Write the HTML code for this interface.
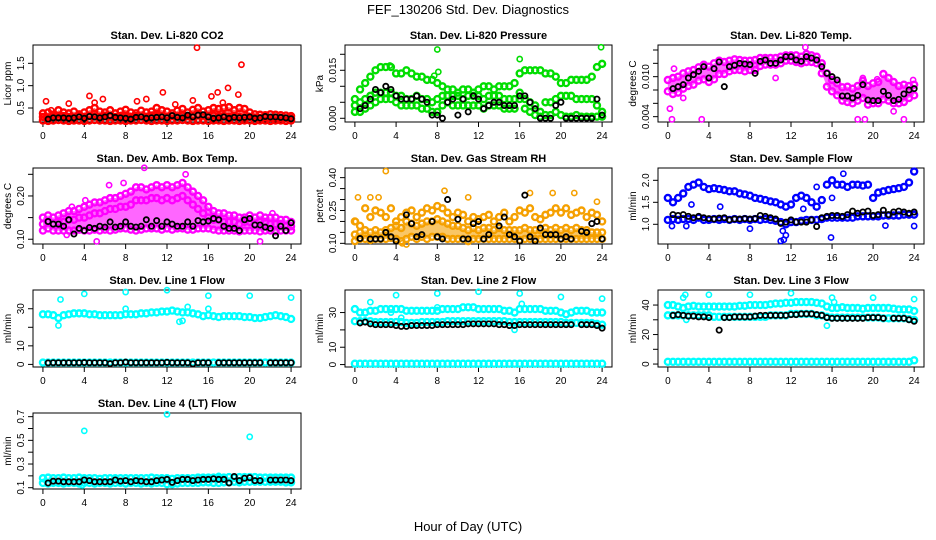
<!DOCTYPE html>
<html><head><meta charset="utf-8">
<style>
html,body{margin:0;padding:0;background:#fff;}
svg{display:block;font-family:"Liberation Sans",Arial,sans-serif;}
</style></head>
<body>
<svg id="chart" width="936" height="540" viewBox="0 0 936 540">
<text x="468" y="14" text-anchor="middle" font-size="13">FEF_130206  Std. Dev. Diagnostics</text>
<text x="468" y="531" text-anchor="middle" font-size="13">Hour of Day (UTC)</text>
</svg>
<script>
const hours=[0,0.5,1,1.5,2,2.5,3,3.5,4,4.5,5,5.5,6,6.5,7,7.5,8,8.5,9,9.5,10,10.5,11,11.5,12,12.5,13,13.5,14,14.5,15,15.5,16,16.5,17,17.5,18,18.5,19,19.5,20,20.5,21,21.5,22,22.5,23,23.5,24];
const xTicks=[0,4,8,12,16,20,24];

// CO2
const co2Lo=[0.22,0.21,0.22,0.23,0.22,0.21,0.22,0.22,0.21,0.22,0.23,0.22,0.22,0.21,0.22,0.22,0.21,0.22,0.22,0.23,0.22,0.21,0.22,0.22,0.21,0.22,0.22,0.23,0.22,0.21,0.22,0.22,0.21,0.22,0.22,0.21,0.22,0.22,0.21,0.22,0.22,0.21,0.22,0.22,0.21,0.22,0.22,0.21,0.22];
const co2Mid=[0.3,0.29,0.31,0.3,0.32,0.3,0.29,0.31,0.3,0.32,0.31,0.3,0.33,0.31,0.3,0.32,0.31,0.3,0.32,0.31,0.3,0.33,0.32,0.31,0.3,0.32,0.31,0.33,0.32,0.31,0.34,0.33,0.32,0.33,0.31,0.32,0.3,0.31,0.3,0.29,0.3,0.29,0.28,0.29,0.28,0.29,0.28,0.27,0.27];
const co2Hi=[0.38,0.4,0.35,0.45,0.4,0.38,0.42,0.36,0.4,0.45,0.5,0.42,0.4,0.45,0.38,0.42,0.46,0.4,0.38,0.44,0.4,0.42,0.5,0.45,0.42,0.38,0.44,0.48,0.4,0.46,0.5,0.42,0.45,0.5,0.48,0.5,0.52,0.45,0.5,0.48,0.4,0.36,0.35,0.34,0.36,0.35,0.34,0.33,0.32];
const co2Out=[[0.3,0.65],[2.5,0.6],[4.5,0.77],[5,0.62],[5.8,0.7],[9.1,0.65],[10,0.7],[11.6,0.85],[14.5,0.67],[14.9,1.85],[16.3,0.76],[16.9,0.85],[17.4,0.62],[17.9,0.95],[18.9,0.8],[19.2,1.47],[0.8,0.45],[12.8,0.58]];
const co2Blk=[null,0.25,0.28,0.28,0.28,0.27,0.28,0.3,0.27,0.31,0.3,0.28,0.3,0.33,0.29,0.28,0.27,0.25,0.29,0.3,0.27,0.28,0.29,0.3,0.28,0.33,0.29,0.28,0.34,0.3,0.34,0.35,0.3,0.27,0.28,0.3,0.27,0.29,0.28,0.29,0.3,0.27,0.28,0.31,0.3,0.3,0.29,0.28,0.26];

// Pressure
const prHi=[0.006,0.009,0.011,0.013,0.015,0.016,0.016,0.016,0.014,0.014,0.015,0.014,0.013,0.013,0.012,0.012,0.011,0.01,0.009,0.009,0.008,0.009,0.009,0.008,0.009,0.01,0.01,0.009,0.01,0.01,0.01,0.011,0.014,0.015,0.015,0.015,0.015,0.014,0.014,0.013,0.011,0.011,0.012,0.012,0.012,0.012,0.013,0.016,0.017];
const prMid=[0.004,0.005,0.006,0.007,0.008,0.008,0.008,0.008,0.007,0.007,0.006,0.006,0.007,0.006,0.006,0.005,0.006,0.007,0.007,0.007,0.007,0.006,0.007,0.007,0.007,0.006,0.007,0.007,0.007,0.006,0.006,0.006,0.008,0.006,0.005,0.004,0.002,0.005,0.005,0.006,0.007,0.007,0.007,0.006,0.006,0.006,0.006,0.004,0.002];
const prLo=[0.002,0.002,0.003,0.004,0.005,0.006,0.006,0.006,0.005,0.004,0.004,0.004,0.004,0.003,0.003,0.002,0.002,0.004,0.005,0.004,0.004,0.004,0.004,0.004,0.004,0.003,0.004,0.004,0.004,0.003,0.003,0.003,0.006,0.003,0.002,0.001,0.0005,0.001,0.001,0.002,0.001,0.0005,0.0005,0.001,0.0005,0.0005,0.0005,0.0005,0.0005];
const prOut=[[8,0.0215],[16,0.0185],[23.9,0.0222],[3.4,0.0165],[8.1,0.0145],[7.7,0.0133]];
const prBlk=[null,0.003,0.004,0.006,0.009,0.008,0.01,0.009,0.007,0.006,0.006,0.006,0.007,0.006,0.005,0.001,0.001,0.0,0.005,0.006,0.001,0.006,0.002,0.007,0.006,0.003,0.004,0.005,0.005,0.004,0.004,0.004,0.007,0.007,0.005,0.003,0.0,0.0,0.0,0.004,0.005,0.0,0.0,0.0,0.0,0.0,0.0,0.006,0.001];

// Li-820 temp
const tpBlk=[null,0.0082,0.0085,0.0088,0.0098,0.0103,0.0108,0.0115,0.0098,0.0112,0.0122,0.0085,0.0115,0.0117,0.012,0.0119,0.0118,0.0105,0.0123,0.0125,0.012,0.012,0.0125,0.013,0.013,0.0125,0.0123,0.013,0.0128,0.0125,0.0115,0.0105,0.0100,0.0095,0.0071,0.0071,0.0068,0.0072,0.0088,0.0065,0.0064,0.0064,0.0078,0.0072,0.0064,0.0066,0.0074,0.0080,0.0082];
const tpHi=[0.0095,0.0098,0.01,0.0105,0.0108,0.011,0.0114,0.0118,0.0115,0.012,0.0124,0.0122,0.0124,0.0126,0.0125,0.0124,0.0124,0.0125,0.0128,0.0128,0.0128,0.0128,0.013,0.0132,0.0132,0.0132,0.013,0.0134,0.0132,0.013,0.012,0.0105,0.0095,0.009,0.0084,0.0085,0.0082,0.0086,0.0094,0.0086,0.009,0.0092,0.0104,0.0098,0.0092,0.0086,0.0088,0.0086,0.0088];
const tpLo=[0.0078,0.0074,0.0076,0.0082,0.0086,0.0088,0.0094,0.0096,0.0092,0.0096,0.0104,0.0104,0.0108,0.011,0.011,0.0108,0.011,0.011,0.0116,0.0118,0.0118,0.0118,0.012,0.0124,0.0124,0.0122,0.012,0.0122,0.0122,0.012,0.0105,0.0085,0.0078,0.0072,0.0064,0.0062,0.006,0.0064,0.0068,0.0058,0.006,0.006,0.0066,0.0064,0.006,0.006,0.0062,0.0068,0.0072];
const tpOut=[[0.2,0.0052],[0.4,0.0036],[3.3,0.0036],[0.6,0.0112],[13.4,0.0144],[19,0.0098],[20.4,0.0096],[23.9,0.0095],[18.5,0.0036],[19.2,0.0036],[23,0.0036],[22,0.0048],[1.5,0.0068],[10.5,0.0098]];

// Amb box temp
const abBlk=[null,0.141,0.135,0.135,0.13,0.145,0.112,0.125,0.12,0.127,0.125,0.13,0.128,0.14,0.128,0.13,0.14,0.13,0.128,0.13,0.145,0.13,0.143,0.13,0.14,0.135,0.13,0.13,0.14,0.13,0.143,0.14,0.142,0.148,0.145,0.13,0.125,0.125,0.12,0.145,0.148,0.133,0.133,0.128,0.125,0.108,0.13,0.12,0.138];
const abHi=[0.15,0.155,0.15,0.155,0.16,0.165,0.165,0.17,0.175,0.18,0.185,0.185,0.19,0.195,0.195,0.2,0.205,0.21,0.22,0.22,0.215,0.22,0.225,0.22,0.225,0.22,0.225,0.23,0.22,0.21,0.2,0.19,0.175,0.165,0.16,0.16,0.155,0.155,0.15,0.15,0.155,0.15,0.155,0.15,0.15,0.15,0.145,0.145,0.14];
const abMid=[0.135,0.14,0.135,0.14,0.14,0.145,0.145,0.15,0.15,0.155,0.16,0.16,0.165,0.17,0.17,0.175,0.175,0.18,0.19,0.19,0.19,0.195,0.195,0.19,0.195,0.19,0.195,0.2,0.19,0.18,0.17,0.16,0.15,0.145,0.145,0.14,0.14,0.14,0.135,0.14,0.14,0.135,0.14,0.14,0.135,0.135,0.135,0.13,0.13];
const abLo=[0.12,0.125,0.12,0.12,0.12,0.12,0.12,0.122,0.12,0.12,0.122,0.12,0.122,0.12,0.122,0.125,0.125,0.122,0.12,0.122,0.125,0.125,0.125,0.122,0.125,0.122,0.125,0.125,0.122,0.122,0.125,0.125,0.125,0.122,0.12,0.12,0.12,0.12,0.118,0.12,0.12,0.12,0.118,0.12,0.12,0.118,0.12,0.12,0.12];
const abOut=[[9.8,0.265],[13.8,0.25],[5.2,0.095],[21,0.095],[6.4,0.225],[7.8,0.23],[2.8,0.175],[4.1,0.19],[22.2,0.16],[2.3,0.11]];

// Gas stream RH
const rhBlk=[null,0.122,null,0.12,0.12,0.12,0.15,0.13,0.11,null,0.23,0.19,0.13,0.14,null,0.2,0.13,0.12,0.3,null,0.21,0.12,0.12,0.19,0.2,0.12,0.14,null,0.18,0.22,0.14,0.13,0.11,0.32,0.13,0.11,0.17,0.14,0.14,0.14,0.12,0.13,0.12,null,0.155,0.15,0.19,0.2,0.12];
const rhHi=[0.2,0.18,0.26,0.22,0.25,0.24,0.22,0.26,0.2,0.22,0.24,0.25,0.22,0.24,0.26,0.25,0.27,0.26,0.24,0.22,0.24,0.23,0.2,0.22,0.21,0.22,0.23,0.2,0.22,0.24,0.2,0.22,0.25,0.24,0.26,0.22,0.21,0.23,0.24,0.26,0.24,0.26,0.23,0.24,0.25,0.22,0.24,0.23,0.2];
const rhMid=[0.14,0.15,0.16,0.15,0.16,0.15,0.16,0.17,0.18,0.17,0.2,0.19,0.18,0.19,0.2,0.2,0.21,0.2,0.19,0.18,0.18,0.17,0.16,0.17,0.16,0.17,0.17,0.16,0.17,0.16,0.16,0.16,0.16,0.17,0.16,0.16,0.16,0.17,0.16,0.17,0.16,0.17,0.16,0.17,0.16,0.16,0.15,0.15,0.15];
const rhLo=[0.11,0.12,0.12,0.115,0.12,0.12,0.12,0.125,0.12,0.11,0.12,0.13,0.12,0.13,0.12,0.13,0.13,0.13,0.12,0.12,0.12,0.12,0.11,0.12,0.12,0.12,0.12,0.12,0.12,0.12,0.12,0.12,0.115,0.12,0.12,0.12,0.12,0.12,0.12,0.12,0.12,0.12,0.12,0.12,0.12,0.12,0.12,0.12,0.12];
const rhOut=[[3,0.43],[0.3,0.31],[1.5,0.31],[2.3,0.31],[8.7,0.34],[11,0.31],[17,0.33],[19.2,0.33],[21.3,0.33],[23.5,0.29],[0.1,0.2],[13,0.12],[4.6,0.1],[5,0.095]];

// Sample flow
const sfBlk=[null,1.22,1.2,1.22,1.18,1.15,1.18,1.15,1.13,1.12,1.14,1.15,1.1,1.12,1.12,1.13,1.12,1.13,1.2,1.18,1.15,1.12,1.02,1.05,1.1,1.05,1.05,1.05,1.1,0.95,1.15,1.18,1.2,1.2,1.18,1.22,1.3,1.25,1.28,1.3,1.2,1.22,1.32,1.22,1.28,1.3,1.28,1.25,1.28];
const sfHi=[1.6,1.5,1.6,1.7,1.85,1.9,1.95,1.85,1.8,1.82,1.8,1.78,1.75,1.75,1.7,1.68,1.65,1.6,1.58,1.55,1.52,1.5,1.45,1.4,1.45,1.6,1.65,1.6,1.5,1.4,1.55,1.9,2.0,1.9,1.9,1.85,1.9,1.9,1.88,1.9,1.6,1.72,1.75,1.78,1.8,1.82,1.85,1.95,2.2];
const sfLo=[1.1,1.12,1.1,1.12,1.12,1.1,1.15,1.1,1.1,1.12,1.1,1.12,1.1,1.12,1.1,1.12,1.1,1.12,1.1,1.12,1.1,1.08,1.05,1.0,1.05,1.05,1.08,1.1,1.1,1.1,1.12,1.15,1.15,1.15,1.15,1.15,1.15,1.18,1.18,1.18,1.18,1.18,1.2,1.2,1.2,1.2,1.22,1.22,1.22];
const sfOut=[[0.4,0.96],[1.8,0.96],[2.3,1.45],[5.1,1.4],[8,0.9],[11,0.62],[11.3,0.65],[11.5,0.75],[11.2,0.85],[13.2,1.35],[15.9,0.7],[16,1.6],[17.1,2.15],[21.2,0.97],[24,0.96],[14.5,1.85]];

// Line 1
const l1Hi=[27,27,26.5,25,26.5,27,27.5,27.5,27.5,27,27,26.5,26.5,26.5,26.5,26.5,27,27,27,27.5,27.5,28,28,28.5,28.5,29,28.5,28,28,27.5,27,26,26.5,26,25.5,26,26,26,26,25.5,25.5,25,25,25.5,26,26.5,26,25.5,24.5];
const l1Lo=[1,1,1,1,1,1,1,1,1,1,1,1,1,1,1,1,1,1,1,1,1,1,1,1,1,1,1,1,1,1,1,1,1,1,1,1,1,1,1,1,1,1,1,1,1,1,1,1,1];
const l1Out=[[1.5,21],[1.7,35],[4,38],[8,39],[12,40],[16,37],[20,37],[24,36],[13.2,23],[13.5,23.5],[16,30],[14,31],[8,30]];
const l1Blk=[null,0.8,0.9,0.9,0.9,0.9,0.9,0.9,1.0,0.9,0.9,0.9,0.9,0.4,0.9,0.9,1.2,0.9,0.9,0.9,0.9,0.9,0.9,0.9,1.1,0.9,0.9,0.9,0.9,0.3,0.9,0.9,0.9,null,0.9,0.9,0.9,0.9,0.9,0.9,0.9,0.9,0.9,null,0.9,0.9,0.9,0.9,0.9];

// Line 2
const l2Hi=[32,30,30,31,31,32,32,32,32,32,31,31,31,31,31,31,31,32,32,32,32,33,33,33,32,32,32,32,32,31,31,30,32,32,32,32,32,31,31,31,30,29,30,31,31,31,30,30,30];
const l2Mid=[25,25,25,25,24.5,24.5,24.5,24.5,24.5,24.5,24,24,24,24.5,24.5,24.5,24.5,24.5,25,25,25,25,25,25,25,25,25,25,25,25,24.5,24.5,24.5,24.5,24.5,24.5,24.5,24.5,24.5,24.5,24.5,24,24,24,24,24,24,23.5,23];
const l2Lo=[0.5,0.5,0.5,0.5,0.5,0.5,0.5,0.5,0.5,0.5,0.5,0.5,0.5,0.5,0.5,0.5,0.5,0.5,0.5,0.5,0.5,0.5,0.5,0.5,0.5,0.5,0.5,0.5,0.5,0.5,0.5,0.5,0.5,0.5,0.5,0.5,0.5,0.5,0.5,0.5,0.5,0.5,0.5,0.5,0.5,0.5,0.5,0.5,0.5];
const l2Out=[[1.5,36],[4,40],[8,41],[12,42],[16,41],[20,39],[24,38],[15.5,20],[4.5,27],[16.2,35],[8,33],[3.5,30]];
const l2Blk=[null,24,24.5,23.5,23,23,23,23,22.5,22,22,22.5,22.5,22.5,22.5,22.5,23,23,23,23,23,23,23.5,23.5,23.5,23.5,23.5,23.5,23,23,22.5,22.5,23,23,23,23,23,23,23,23,23,23,23,null,23,23,23,22.5,21];

// Line 3
const l3Hi=[40,40,39,38,39,39.5,39,39,39,39,39,39,39,39,39.5,39.5,40,40,40,40,40.5,41,41,41.5,41.5,42,42,42,42,41.5,41,39,38,38,38.5,38,38,38,37.5,38,38,38,38,38,37.5,37,37,37,36];
const l3Mid=[33,33,33,33,33,33,33,33,33,32,32,32,32,32,32,32,32,32,32,32,33,33,33,33,34,34,34,34,34,33,33,32,31.5,31.5,31.5,31.5,31.5,31.5,31.5,31.5,31.5,31.5,31,31,31,31,31,30.5,30];
const l3Lo=[1.5,1.5,1.5,1.5,1.5,1.5,1.5,1.5,1.5,1.5,1.5,1.5,1.5,1.5,1.5,1.5,1.5,1.5,1.5,1.5,1.5,1.5,1.5,1.5,1.5,1.5,1.5,1.5,1.5,1.5,1.5,1.5,1.5,1.5,1.5,1.5,1.5,1.5,1.5,1.5,1.5,1.5,1.5,1.5,1.5,1.5,1.5,1.5,2.5];
const l3Out=[[1.5,45],[1.7,47],[4,47],[8,47],[12,48],[16,45],[20,45],[24,44],[15.5,26],[1.8,30],[16.2,42]];
const l3Blk=[null,33,33.5,33,32.5,32.5,32,32,31.5,null,23,31.5,31.5,32,32,32,32,32.5,33,33,33,33,33,33,33.5,33.5,34,34,34,33.5,33,31.5,31,31,31,31,31,31,31,31.5,31.5,31.5,31,null,31,31,31,30,29];

// Line 4
const l4Hi=[0.18,0.185,0.18,0.18,0.185,0.18,0.18,0.185,0.18,0.18,0.18,0.175,0.18,0.18,0.18,0.18,0.18,0.18,0.18,0.18,0.18,0.185,0.18,0.18,0.18,0.175,0.18,0.18,0.18,0.18,0.185,0.185,0.185,0.185,0.185,0.185,0.19,0.185,0.19,0.19,0.19,0.19,0.185,0.185,0.185,0.185,0.185,0.185,0.185];
const l4Lo=[0.14,0.135,0.14,0.14,0.135,0.14,0.14,0.135,0.14,0.14,0.135,0.14,0.14,0.135,0.14,0.14,0.135,0.14,0.14,0.135,0.14,0.135,0.14,0.14,0.13,0.13,0.135,0.14,0.14,0.14,0.14,0.145,0.145,0.14,0.14,0.145,0.145,0.15,0.145,0.15,0.15,0.15,0.15,0.15,0.15,0.15,0.15,0.145,0.145];
const l4Out=[[4,0.58],[12,0.72],[20,0.53],[3.8,0.12],[17,0.2]];
const l4Blk=[null,0.14,0.155,0.155,0.15,0.15,0.15,0.15,0.165,0.16,0.15,0.15,0.15,0.15,0.165,0.155,0.16,0.15,0.16,0.155,0.15,0.15,0.16,0.165,0.17,0.145,0.16,0.17,0.17,0.16,0.165,0.17,0.17,0.175,0.17,0.17,0.14,0.195,0.16,0.18,0.185,0.16,0.16,null,0.165,0.165,0.165,0.165,0.16];

const SVGNS="http://www.w3.org/2000/svg";
const svg=document.getElementById('chart');
function mk(tag,attrs,parent){const e=document.createElementNS(SVGNS,tag);for(const k in attrs)e.setAttribute(k,attrs[k]);(parent||svg).appendChild(e);return e;}

const colX=[[33,301],[345,612],[658,924]];
const rowY=[[45,122],[168,244],[290,367],[413,489]];

function panel(p){
  const [x0,x1]=colX[p.col],[y0,y1]=rowY[p.row];
  const g=mk('g',{});
  
  
  const xs=v=>x0+(v+0.96)/25.92*(x1-x0);
  const ys=v=>y1-(v-p.ylim[0])/(p.ylim[1]-p.ylim[0])*(y1-y0);
  const t=mk('text',{x:(x0+x1)/2,y:y0-6,'text-anchor':'middle','font-size':11,'font-weight':'bold'},g);
  t.textContent=p.title;
  
  
  const box=mk('rect',{x:x0,y:y0,width:x1-x0,height:y1-y0,fill:'none',stroke:'#000','stroke-width':1},g);
  
  
  xTicks.forEach(v=>{
    mk('line',{x1:xs(v),x2:xs(v),y1:y1,y2:y1+5,stroke:'#000'},g);
    const l=mk('text',{x:xs(v),y:y1+17,'text-anchor':'middle','font-size':10},g);
    l.textContent=v;
    
    
  });
  mk('line',{x1:xs(0),x2:xs(24),y1:y1,y2:y1,stroke:'#000'},g);
  p.yTicks.forEach((v,i)=>{
    mk('line',{x1:x0,x2:x0-5,y1:ys(v),y2:ys(v),stroke:'#000'},g);
    if(p.yLabels[i]!==''){
      const l=mk('text',{x:x0-9,y:ys(v),'text-anchor':'middle','font-size':10,transform:`rotate(-90 ${x0-9} ${ys(v)})`},g);
      l.textContent=p.yLabels[i];
      
      
    }
  });
  mk('line',{x1:x0,x2:x0,y1:ys(p.yTicks[0]),y2:ys(p.yTicks[p.yTicks.length-1]),stroke:'#000'},g);
  const yt=mk('text',{x:x0-22,y:(y0+y1)/2,'text-anchor':'middle','font-size':10,transform:`rotate(-90 ${x0-22} ${(y0+y1)/2})`},g);
  yt.textContent=p.ylab;
  
  
  if(p.band){
    const [lo,hi]=p.band;let d='';
    hours.forEach((h,i)=>{d+=(i?'L':'M')+xs(h)+','+ys(hi[i]);});
    for(let i=hours.length-1;i>=0;i--)d+='L'+xs(hours[i])+','+ys(lo[i]);
    const b=mk('path',{d:d+'Z',fill:p.color,opacity:0.6},g);
    
    
  }
  const pt=(x,y,c,nm,r,sw)=>{
    const c1=mk('circle',{cx:xs(x),cy:ys(y),r:r,fill:'none',stroke:c,'stroke-width':sw},g);
    
    
  };
  p.series.forEach(arr=>arr.forEach((v,i)=>{if(v!==null)pt(hours[i],v,p.color,'colored-point',3,2.4);}));
  p.out.forEach(o=>pt(o[0],o[1],p.color,'outlier-point',2.6,1.6));
  p.blk.forEach((v,i)=>{if(v!==null)pt(hours[i],v,'#000','black-point',2.6,1.8);});
}

panel({name:'panel-co2',col:0,row:0,title:'Stan. Dev. Li-820 CO2',ylab:'Licor ppm',ylim:[0.187,1.91],yTicks:[0.5,1.0,1.5],yLabels:['0.5','1.0','1.5'],color:'#ff0000',band:[co2Lo,co2Hi],series:[co2Lo,co2Mid,co2Hi],out:co2Out,blk:co2Blk});
panel({name:'panel-pressure',col:1,row:0,title:'Stan. Dev. Li-820 Pressure',ylab:'kPa',ylim:[-0.00116,0.0229],yTicks:[0,0.005,0.01,0.015,0.02],yLabels:['0.000','','','0.015',''],color:'#00dd00',band:null,series:[prHi,prMid,prLo],out:prOut,blk:prBlk});
panel({name:'panel-li820-temp',col:2,row:0,title:'Stan. Dev. Li-820 Temp.',ylab:'degrees C',ylim:[0.0032,0.01475],yTicks:[0.004,0.006,0.008,0.01,0.012,0.014],yLabels:['0.004','','','0.010','',''],color:'#ff00ff',band:[tpLo,tpHi],series:[tpLo,tpHi],out:tpOut,blk:tpBlk});
panel({name:'panel-amb-box-temp',col:0,row:1,title:'Stan. Dev. Amb. Box Temp.',ylab:'degrees C',ylim:[0.089,0.2646],yTicks:[0.10,0.15,0.20,0.25],yLabels:['0.10','','0.20',''],color:'#ff00ff',band:[abLo,abHi],series:[abLo,abMid,abHi],out:abOut,blk:abBlk});
panel({name:'panel-gas-rh',col:1,row:1,title:'Stan. Dev. Gas Stream RH',ylab:'percent',ylim:[0.097,0.444],yTicks:[0.10,0.15,0.20,0.25,0.30,0.35,0.40],yLabels:['0.10','','','0.25','','','0.40'],color:'#f5a000',band:[rhLo,rhMid],series:[rhLo,rhMid,rhHi],out:rhOut,blk:rhBlk});
panel({name:'panel-sample-flow',col:2,row:1,title:'Stan. Dev. Sample Flow',ylab:'ml/min',ylim:[0.552,2.28],yTicks:[1.0,1.5,2.0],yLabels:['1.0','1.5','2.0'],color:'#0000ff',band:null,series:[sfLo,sfHi],out:sfOut,blk:sfBlk});
panel({name:'panel-line1-flow',col:0,row:2,title:'Stan. Dev. Line 1 Flow',ylab:'ml/min',ylim:[-1.4,40.1],yTicks:[0,10,20,30],yLabels:['0','10','','30'],color:'#00ffff',band:null,series:[l1Lo,l1Hi],out:l1Out,blk:l1Blk});
panel({name:'panel-line2-flow',col:1,row:2,title:'Stan. Dev. Line 2 Flow',ylab:'ml/min',ylim:[-1.4,43],yTicks:[0,10,20,30],yLabels:['0','10','','30'],color:'#00ffff',band:null,series:[l2Lo,l2Mid,l2Hi],out:l2Out,blk:l2Blk});
panel({name:'panel-line3-flow',col:2,row:2,title:'Stan. Dev. Line 3 Flow',ylab:'ml/min',ylim:[-2,50.2],yTicks:[0,10,20,30,40],yLabels:['0','','20','','40'],color:'#00ffff',band:null,series:[l3Lo,l3Mid,l3Hi],out:l3Out,blk:l3Blk});
panel({name:'panel-line4-flow',col:0,row:3,title:'Stan. Dev. Line 4 (LT) Flow',ylab:'ml/min',ylim:[0.089,0.731],yTicks:[0.1,0.2,0.3,0.4,0.5,0.6,0.7],yLabels:['0.1','','0.3','','0.5','','0.7'],color:'#00ffff',band:[l4Lo,l4Hi],series:[l4Lo,l4Hi],out:l4Out,blk:l4Blk});
</script>
</body></html>
